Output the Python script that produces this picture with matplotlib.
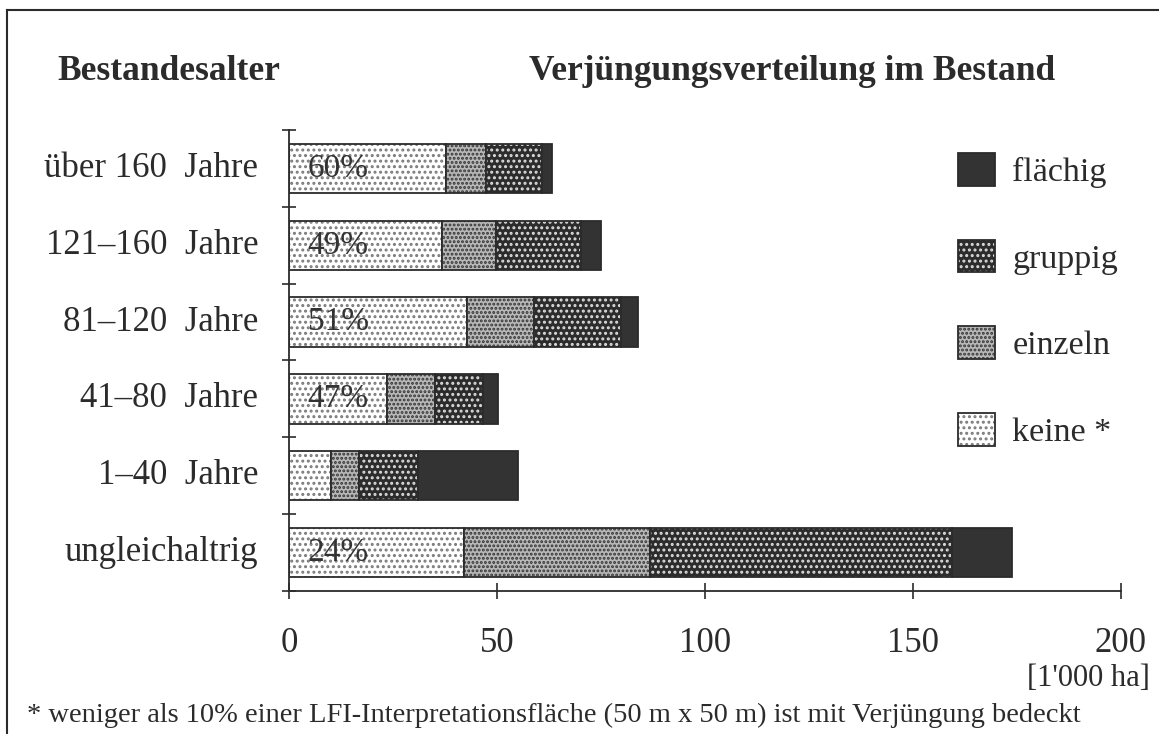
import numpy as np
import matplotlib
matplotlib.use('Agg')
import matplotlib.pyplot as plt
from matplotlib.patches import Patch
from matplotlib.lines import Line2D

plt.rcParams['font.family'] = ['Liberation Serif', 'DejaVu Serif']
plt.rcParams['hatch.linewidth'] = 1.4

# data, in 1'000 ha (top to bottom)
age_classes = ['über 160  Jahre', '121–160  Jahre', '81–120  Jahre',
               '41–80  Jahre', '1–40  Jahre', 'ungleichaltrig']
keine = [37.8, 36.8, 42.8, 23.5, 10.0, 42.1]
einzeln = [9.6, 13.0, 16.1, 11.7, 6.8, 44.7]
gruppig = [13.4, 20.3, 20.8, 11.5, 14.1, 72.5]
flaechig = [2.4, 5.0, 4.3, 3.6, 24.1, 14.6]
pct_labels = ['60%', '49%', '51%', '47%', '', '24%']

series = [
    ('keine *', keine, 'white', '#7a7a7a', '...'),
    ('einzeln', einzeln, '#b8b8b8', '#343434', '....'),
    ('gruppig', gruppig, '#2c2c2c', '#dddddd', '...'),
    ('flächig', flaechig, '#333333', '#333333', None),
]

ink = '#2b2b2b'
fig = plt.figure(figsize=(11.59, 7.34), dpi=100)
ax = fig.add_axes([289 / 1159, 1 - 591 / 734, (1121 - 289) / 1159, (591 - 130) / 734])

y = np.arange(len(age_classes))[::-1]
left = np.zeros(len(age_classes))
handles = []
for name, vals, fc, hc, hatch in series:
    vals = np.array(vals)
    ax.barh(y, vals, left=left, height=0.64, color=fc, edgecolor=hc,
            hatch=hatch, linewidth=0)
    ax.barh(y, vals, left=left, height=0.64, fill=False, edgecolor=ink,
            linewidth=1.3)
    left += vals
    handles.append((Patch(facecolor=fc, edgecolor=hc, hatch=hatch, linewidth=0),
                    Patch(fill=False, edgecolor=ink, linewidth=1.3)))

for yi, lab in zip(y, pct_labels):
    if lab:
        ax.text(4.5, yi, lab, va='center', ha='left', fontsize=24, color='#333333')

ax.set_xlim(0, 200)
ax.set_ylim(-0.5, 5.5)
ax.set_xticks([0, 50, 100, 150, 200])
ax.set_xticklabels(['0', '50', '100', '150', '200'], fontsize=25, color=ink)
ax.set_yticks(np.arange(-0.5, 6.0, 1.0))
ax.set_yticklabels([])
for yi, lab in zip(y, age_classes):
    ax.text(-0.037, yi, lab, transform=ax.get_yaxis_transform(), ha='right',
            va='center', fontsize=25, color=ink)
ax.tick_params(axis='x', direction='inout', length=12, width=1.2, color=ink, pad=20)
ax.tick_params(axis='y', direction='inout', length=10, width=1.2, color=ink)
for s in ['top', 'right']:
    ax.spines[s].set_visible(False)
for s in ['left', 'bottom']:
    ax.spines[s].set_linewidth(1.3)
    ax.spines[s].set_color(ink)

leg = fig.legend(handles[::-1], [s[0] for s in series][::-1],
                 loc='upper left', bbox_to_anchor=(958 / 1159, 1 - 153 / 734),
                 frameon=False, fontsize=24.5, handlelength=1.1, handleheight=1.1,
                 labelspacing=1.52, handletextpad=0.5, borderpad=0, borderaxespad=0)
for t in leg.get_texts():
    t.set_color(ink)

fig.text(57 / 1159, 1 - 72 / 734, 'Bestandesalter', fontsize=25.5, fontweight='bold',
         color=ink, va='center', ha='left')
fig.text(1055 / 1159, 1 - 72 / 734, 'Verjüngungsverteilung im Bestand', fontsize=25.5,
         fontweight='bold', color=ink, va='center', ha='right')
fig.text(1150 / 1159, 1 - 678 / 734, "[1'000 ha]", fontsize=22, color=ink,
         va='center', ha='right')
fig.text(27 / 1159, 1 - 715 / 734,
         '* weniger als 10% einer LFI-Interpretationsfläche (50 m x 50 m) ist mit Verjüngung bedeckt',
         fontsize=20.5, color=ink, va='center', ha='left')

# frame around the figure
fig.add_artist(Line2D([7 / 1159, 7 / 1159], [0, 1 - 10 / 734], transform=fig.transFigure,
                      color=ink, linewidth=1.5))
fig.add_artist(Line2D([7 / 1159, 1], [1 - 10 / 734, 1 - 10 / 734], transform=fig.transFigure,
                      color=ink, linewidth=1.5))

fig.savefig('out.png', dpi=100, facecolor='white')
